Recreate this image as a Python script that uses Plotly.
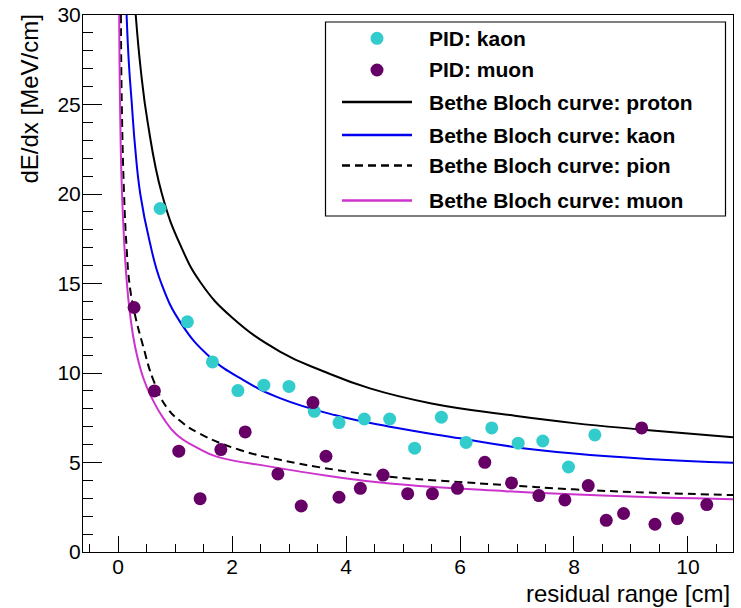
import plotly.graph_objects as go

# ---------------- data ----------------
kaon_x = [0.738, 1.217, 1.656, 2.103, 2.559, 2.999, 3.443, 3.877, 4.321, 4.766,
          5.204, 5.673, 6.107, 6.557, 7.021, 7.453, 7.904, 8.366]
kaon_y = [19.19, 12.86, 10.62, 9.02, 9.32, 9.25, 7.86, 7.23, 7.43, 7.43,
          5.80, 7.53, 6.12, 6.93, 6.08, 6.20, 4.75, 6.54]

muon_x = [0.281, 0.638, 1.066, 1.440, 1.804, 2.231, 2.805, 3.214, 3.420, 3.648,
          3.877, 4.251, 4.650, 5.082, 5.516, 5.955, 6.435, 6.904, 7.384, 7.840,
          8.250, 8.566, 8.870, 9.187, 9.421, 9.814, 10.330]
muon_y = [13.66, 9.00, 5.63, 2.98, 5.72, 6.71, 4.36, 2.57, 8.35, 5.35,
          3.06, 3.56, 4.30, 3.26, 3.26, 3.56, 5.01, 3.86, 3.15, 2.91,
          3.71, 1.77, 2.15, 6.93, 1.55, 1.87, 2.65]

bb_proton_x = [0.31, 0.40, 0.52, 0.77, 1.10, 1.46, 2.00, 2.84, 3.60, 4.42, 5.50, 6.88, 8.00, 9.16, 10.79]
bb_proton_y = [30.0, 26.9, 24.0, 20.0, 17.1, 15.0, 13.1, 11.2, 10.1, 9.14, 8.30, 7.65, 7.20, 6.85, 6.41]

bb_kaon_x = [0.15, 0.19, 0.24, 0.30, 0.39, 0.55, 0.76, 1.10, 1.61, 2.20, 2.84, 3.80, 4.77, 6.00, 6.88, 8.00, 9.30, 10.79]
bb_kaon_y = [30.0, 27.3, 25.1, 22.6, 20.0, 17.4, 15.0, 12.8, 10.9, 9.60, 8.60, 7.65, 7.00, 6.35, 5.90, 5.50, 5.20, 4.99]

bb_pion_x = [0.05, 0.065, 0.105, 0.15, 0.20, 0.28, 0.44, 0.62, 0.85, 1.10, 1.44, 2.14, 2.84, 3.80, 4.77, 5.80, 6.80, 8.00, 9.30, 10.79]
bb_pion_y = [30.0, 25.1, 20.0, 17.0, 15.0, 13.5, 11.5, 9.6, 8.1, 7.3, 6.6, 5.7, 5.15, 4.6, 4.2, 3.95, 3.74, 3.50, 3.32, 3.18]

bb_muon_x = [0.02, 0.035, 0.07, 0.15, 0.21, 0.30, 0.44, 0.58, 0.80, 1.03, 1.40, 1.73, 2.67, 3.70, 4.77, 6.80, 8.50, 10.79]
bb_muon_y = [30.0, 25.1, 20.0, 15.2, 13.3, 11.45, 9.75, 8.68, 7.45, 6.55, 5.80, 5.33, 4.77, 4.25, 3.83, 3.40, 3.15, 2.94]

legend_labels = ["PID: kaon", "PID: muon", "Bethe Bloch curve: proton",
                 "Bethe Bloch curve: kaon", "Bethe Bloch curve: pion",
                 "Bethe Bloch curve: muon"]

# ---------------- styles ----------------
CYAN = "#33CCCC"
PURPLE = "#660066"
BLUE = "#0000EE"
MAGENTA = "#CC33CC"
FONT = "Liberation Sans"

W, H = 741, 608
L, R, T, B = 83, 733, 15, 552  # plot area in pixels


def px(xp):
    return (xp - L) / (R - L)


def py(yp):
    return (B - yp) / (B - T)


fig = go.Figure()

curves = [
    (bb_proton_x, bb_proton_y, dict(color="black", width=2)),
    (bb_kaon_x, bb_kaon_y, dict(color=BLUE, width=2)),
    (bb_pion_x, bb_pion_y, dict(color="black", width=2, dash="8px,5px")),
    (bb_muon_x, bb_muon_y, dict(color=MAGENTA, width=2)),
]
for cx, cy, ln in curves:
    fig.add_trace(go.Scatter(x=cx, y=cy, mode="lines", line=dict(shape="spline", smoothing=1.3, **ln),
                             showlegend=False, hoverinfo="skip"))

fig.add_trace(go.Scatter(x=kaon_x, y=kaon_y, mode="markers",
                         marker=dict(color=CYAN, size=13, line=dict(width=0)), showlegend=False))
fig.add_trace(go.Scatter(x=muon_x, y=muon_y, mode="markers",
                         marker=dict(color=PURPLE, size=13, line=dict(width=0)), showlegend=False))

# ---------------- manual legend (decoration) ----------------
shapes = []
annotations = []
shapes.append(dict(type="rect", xref="paper", yref="paper", x0=px(325.5), x1=px(725.5),
                   y0=py(216), y1=py(22), line=dict(color="black", width=1.2), fillcolor="white",
                   layer="above"))
rows_y = [38.3, 70, 102, 135, 165.5, 200.5]
sym_x0, sym_x1, sym_xc = 342, 412, 377
text_x = 427
for i, (lab, ry) in enumerate(zip(legend_labels, rows_y)):
    if i < 2:
        col = CYAN if i == 0 else PURPLE
        shapes.append(dict(type="circle", xref="paper", yref="paper",
                           xsizemode="pixel", ysizemode="pixel",
                           xanchor=px(sym_xc), yanchor=py(ry),
                           x0=-6.5, x1=6.5, y0=-6.5, y1=6.5,
                           fillcolor=col, line=dict(width=0), layer="above"))
    else:
        ln = curves[i - 2][2]
        shapes.append(dict(type="line", xref="paper", yref="paper",
                           x0=px(sym_x0), x1=px(sym_x1), y0=py(ry), y1=py(ry),
                           line=dict(color=ln["color"], width=2.5, dash=ln.get("dash", "solid")),
                           layer="above"))
    annotations.append(dict(text=lab, xref="paper", yref="paper", x=px(text_x), y=py(ry),
                            xanchor="left", yanchor="middle", showarrow=False,
                            font=dict(family=FONT, size=21, color="black", weight="bold")))

# axis titles
annotations.append(dict(text="residual range [cm]", xref="paper", yref="paper",
                        x=px(732), y=py(593), xanchor="right", yanchor="middle",
                        showarrow=False, font=dict(family=FONT, size=24, color="black")))
annotations.append(dict(text="dE/dx [MeV/cm]", xref="paper", yref="paper",
                        x=px(29), y=py(13), xanchor="center", yanchor="top", textangle=-90,
                        showarrow=False, font=dict(family=FONT, size=24, color="black")))

fig.update_layout(
    template="none",
    width=W, height=H,
    margin=dict(l=L, r=W - R, t=T, b=H - B, pad=0, autoexpand=False),
    paper_bgcolor="white", plot_bgcolor="white",
    shapes=shapes, annotations=annotations,
    font=dict(family=FONT, size=21, color="black"),
    showlegend=False,
)
fig.update_xaxes(range=[-0.615, 10.79], showgrid=False, zeroline=False, automargin=False,
                 showline=True, linecolor="black", linewidth=1, mirror=True,
                 ticks="inside", ticklen=16, tickwidth=1, tickcolor="black",
                 tickmode="array", tickvals=[0, 2, 4, 6, 8, 10], ticktext=["0", "2", "4", "6", "8", "10"],
                 minor=dict(ticks="inside", ticklen=8, tickwidth=1, tickcolor="black", dtick=0.5, tick0=0,
                            showgrid=False),
                 tickfont=dict(family=FONT, size=21), ticklabelstandoff=-4)
fig.update_yaxes(range=[0, 30], showgrid=False, zeroline=False, automargin=False,
                 showline=True, linecolor="black", linewidth=1, mirror=True,
                 ticks="inside", ticklen=19, tickwidth=1, tickcolor="black",
                 tickmode="array", tickvals=[0, 5, 10, 15, 20, 25, 30],
                 minor=dict(ticks="inside", ticklen=10, tickwidth=1, tickcolor="black", dtick=1, tick0=0,
                            showgrid=False),
                 tickfont=dict(family=FONT, size=21), ticklabelstandoff=-3)

fig.write_html("out.html", config={"displayModeBar": False},
               post_script="document.body.style.margin='0px';document.body.style.padding='0px';"
                           "document.body.style.overflow='hidden';")
